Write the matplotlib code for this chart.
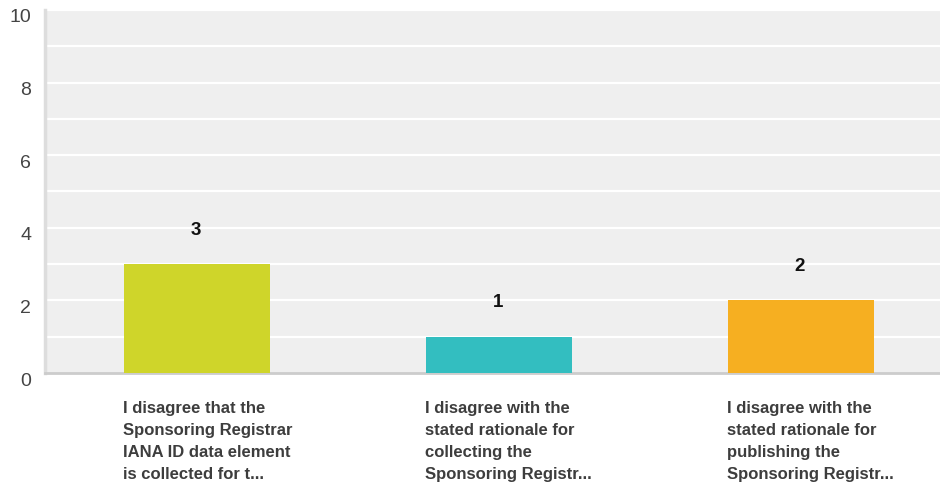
import matplotlib
matplotlib.use("Agg")
import matplotlib.pyplot as plt
import matplotlib.transforms as mtransforms

categories = [
    "I disagree that the\nSponsoring Registrar\nIANA ID data element\nis collected for t...",
    "I disagree with the\nstated rationale for\ncollecting the\nSponsoring Registr...",
    "I disagree with the\nstated rationale for\npublishing the\nSponsoring Registr...",
]
values = [3, 1, 2]
colors = ["#cfd52a", "#33bec0", "#f6af21"]
yticks = [0, 2, 4, 6, 8, 10]

plt.rcParams['font.family'] = ['Liberation Sans', 'DejaVu Sans']

W, H = 940, 486
fig = plt.figure(figsize=(W / 100, H / 100), dpi=100)
left, right, top, bottom = 45, 940, 10, 373
ax = fig.add_axes([left / W, 1 - bottom / H, (right - left) / W, (bottom - top) / H])
ax.set_facecolor("#efefef")

x = list(range(len(values)))
bw = 0.483
ax.bar([xi + 0.003 for xi in x], values, width=bw, color=colors, zorder=3)
ax.set_xlim(-0.5, 2.5 - 11 / 302)
ax.set_ylim(0, 10)

for yv in range(1, 11):
    ax.axhline(yv, color="white", lw=1.6, zorder=1)

for xi, v in zip(x, values):
    ax.text(xi, v + 0.93, str(v), ha="center", va="center", fontsize=13.5,
            fontweight="bold", color="#111111", zorder=4)

ax.set_yticks(yticks)
ax.set_yticklabels([str(t) for t in yticks], fontsize=14, color="#444444")
ax.tick_params(axis="y", length=0, pad=10)
offset = mtransforms.ScaledTranslation(0, -6 / 100, fig.dpi_scale_trans)
for lab in ax.get_yticklabels():
    lab.set_transform(lab.get_transform() + offset)
ax.set_xticks([])

for s in ["top", "right"]:
    ax.spines[s].set_visible(False)
ax.spines["left"].set_color("#dddddd")
ax.spines["left"].set_linewidth(2.5)
ax.spines["bottom"].set_color("#cccccc")
ax.spines["bottom"].set_linewidth(2)

for xi, c in zip(x, categories):
    ax.text(xi - bw / 2, -0.76, c, ha="left", va="top", fontsize=12,
            fontweight="bold", color="#3d3d3d", linespacing=1.6,
            transform=ax.transData)

fig.savefig("out.png", dpi=100)
